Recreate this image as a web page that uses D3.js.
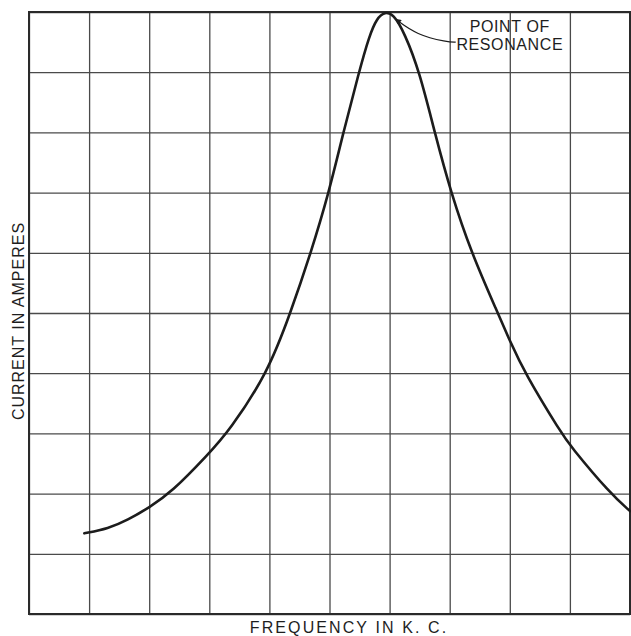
<!DOCTYPE html>
<html>
<head>
<meta charset="utf-8">
<script src="https://cdn.jsdelivr.net/npm/d3@7"></script>
<style>
  html, body { margin: 0; padding: 0; background: #fff; }
  svg { display: block; }
  text { font-family: "Liberation Sans", Arial, sans-serif; fill: #1e1e1e; }
</style>
</head>
<body>
<svg id="chart" width="631" height="636"></svg>
<script>
// ---- data (grid units: 10 x 10 divisions) ----
const gridTicks = [0, 1, 2, 3, 4, 5, 6, 7, 8, 9, 10];
const frequency = [0.92, 1.32, 1.64, 2.00, 2.37, 2.98, 3.33, 3.97, 4.35, 4.69, 4.99, 5.23, 5.49, 5.66, 5.79, 5.92, 6.06, 6.25, 6.50, 6.75, 7.02, 7.36, 7.80, 8.00, 8.25, 8.86, 9.00, 9.67, 10.0];
const current   = [1.34, 1.42, 1.56, 1.77, 2.02, 2.65, 3.04, 4.00, 5.00, 6.00, 7.00, 8.00, 9.00, 9.60, 9.90, 10.0, 9.97, 9.65, 9.00, 8.00, 7.00, 6.00, 5.00, 4.54, 4.00, 3.00, 2.80, 2.00, 1.71];
const xTitle = "FREQUENCY IN K. C.";
const yTitle = "CURRENT IN AMPERES";
const noteLines = ["POINT OF", "RESONANCE"];
const notePos = [8.0, 9.67];          // text anchor (grid units)
const leader = [[7.10, 9.50], [6.96, 9.50], [6.45, 9.62], [6.10, 9.88]];

// ---- layout ----
const svg = d3.select("#chart");
const m = { left: 29, right: 1, top: 12, bottom: 22 };
const W = 631, H = 636;
const x = d3.scaleLinear().domain([0, 10]).range([m.left, W - m.right]);
const y = d3.scaleLinear().domain([0, 10]).range([H - m.bottom, m.top]);

// grid
const gx = svg.append("g")
  .attr("transform", `translate(0,${y(0)})`)
  .call(d3.axisBottom(x).tickValues(gridTicks).tickSize(-(y(0) - y(10))).tickFormat(""));
const gy = svg.append("g")
  .attr("transform", `translate(${x(0)},0)`)
  .call(d3.axisLeft(y).tickValues(gridTicks).tickSize(-(x(10) - x(0))).tickFormat(""));
[gx, gy].forEach(g => {
  g.select(".domain").remove();
  g.selectAll(".tick line").attr("stroke", "#4a4a4a").attr("stroke-width", 1.3);
});

// frame
svg.append("rect")
  .attr("x", x(0)).attr("y", y(10))
  .attr("width", x(10) - x(0)).attr("height", y(0) - y(10))
  .attr("fill", "none").attr("stroke", "#2a2a2a").attr("stroke-width", 2);

// resonance curve
const pts = frequency.map((f, i) => [f, current[i]]);
svg.append("path")
  .datum(pts)
  .attr("fill", "none")
  .attr("stroke", "#1c1c1c")
  .attr("stroke-width", 2.6)
  .attr("stroke-linecap", "round")
  .attr("d", d3.line().x(d => x(d[0])).y(d => y(d[1])).curve(d3.curveBasis));

// arrow marker
svg.append("defs").append("marker")
  .attr("id", "arr").attr("viewBox", "0 0 10 10")
  .attr("refX", 9).attr("refY", 5)
  .attr("markerWidth", 9).attr("markerHeight", 6)
  .attr("markerUnits", "userSpaceOnUse")
  .attr("orient", "auto")
  .append("path").attr("d", "M0,0 L10,5 L0,10 Z").attr("fill", "#1c1c1c");

// leader line
svg.append("path")
  .datum(leader)
  .attr("fill", "none").attr("stroke", "#1c1c1c").attr("stroke-width", 1.2)
  .attr("marker-end", "url(#arr)")
  .attr("d", d3.line().x(d => x(d[0])).y(d => y(d[1])).curve(d3.curveBasis));

// annotation text
const note = svg.append("text")
  .attr("text-anchor", "middle")
  .attr("font-size", 16)
  .attr("letter-spacing", 0.6);
noteLines.forEach((t, i) => {
  note.append("tspan")
    .attr("x", x(notePos[0]))
    .attr("y", y(notePos[1]) + i * 18)
    .text(t);
});

// axis titles
svg.append("text")
  .attr("x", 349).attr("y", 633)
  .attr("text-anchor", "middle")
  .attr("font-size", 16)
  .attr("letter-spacing", 2.1)
  .text(xTitle);

svg.append("text")
  .attr("transform", "translate(24,321) rotate(-90)")
  .attr("text-anchor", "middle")
  .attr("font-size", 16)
  .attr("letter-spacing", 1.0)
  .text(yTitle);
</script>
</body>
</html>
